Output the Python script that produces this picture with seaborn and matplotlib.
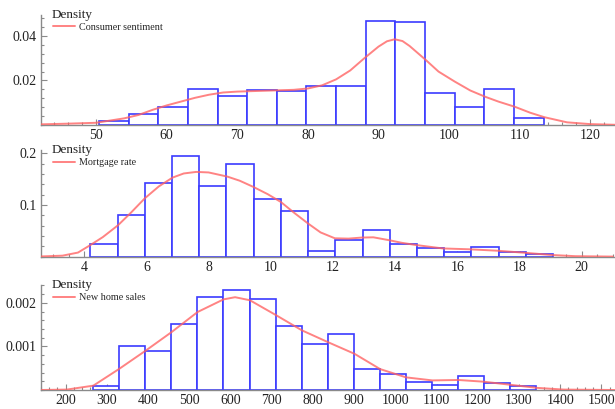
import numpy as np
import pandas as pd
import seaborn as sns
import matplotlib.pyplot as plt
from matplotlib.ticker import MultipleLocator, FixedLocator

# consumer sentiment: histogram (density) and smoothed density
cs_edges = [50.4, 54.6, 58.8, 63.0, 67.2, 71.4, 75.6, 79.8, 84.0, 88.2,
            92.4, 96.6, 100.8, 105.0, 109.2, 113.4]
cs_hist = [0.0019, 0.0048, 0.0080, 0.0162, 0.0132, 0.0157, 0.0153, 0.0174,
           0.0174, 0.0467, 0.0463, 0.0144, 0.0082, 0.0162, 0.0030]
cs_x = [42.2, 46, 50, 54, 56, 58, 60, 62, 64, 66, 68, 70, 74, 78, 80, 82, 84,
        86, 88, 90, 91.2, 92.3, 93.4, 94.4, 96.7, 98.5, 100.8, 103, 105.1,
        107, 109.3, 111.5, 113.5, 116.7, 120, 123.5]
cs_y = [0.0003, 0.0006, 0.0010, 0.0030, 0.0045, 0.0068, 0.0088, 0.0105,
        0.0122, 0.0136, 0.0146, 0.0150, 0.0154, 0.0158, 0.0164, 0.0178,
        0.0205, 0.0245, 0.0300, 0.0352, 0.0376, 0.0385, 0.0377, 0.0355,
        0.0292, 0.0240, 0.0195, 0.0155, 0.0127, 0.0105, 0.0082, 0.0055,
        0.0035, 0.0012, 0.0004, 0.0001]

# mortgage rate
mr_edges = [4.2, 5.075, 5.95, 6.825, 7.7, 8.575, 9.45, 10.325, 11.2, 12.075,
            12.95, 13.825, 14.7, 15.575, 16.45, 17.325, 18.2, 19.075]
mr_hist = [0.024, 0.0807, 0.143, 0.195, 0.137, 0.179, 0.112, 0.088, 0.0116,
           0.032, 0.0516, 0.0245, 0.017, 0.0097, 0.0188, 0.0097, 0.005]
mr_x = [2.6, 3.3, 3.8, 4.2, 4.6, 5.09, 5.5, 5.95, 6.4, 6.84, 7.2, 7.6, 8.0,
        8.6, 9.0, 9.44, 9.9, 10.32, 10.75, 11.19, 11.6, 12.06, 12.5, 12.92,
        13.3, 13.8, 14.2, 14.67, 15.53, 16.4, 17.28, 18.15, 19.03, 19.8, 21.0]
mr_y = [0.0005, 0.002, 0.008, 0.0226, 0.038, 0.061, 0.085, 0.113, 0.136,
        0.153, 0.161, 0.164, 0.163, 0.155, 0.147, 0.135, 0.121, 0.106, 0.085,
        0.0646, 0.047, 0.0356, 0.035, 0.037, 0.0375, 0.032, 0.027, 0.0226,
        0.016, 0.0143, 0.0116, 0.0077, 0.0033, 0.001, 0.0002]

# new home sales
nh_edges = [266.8, 330.0, 393.2, 456.4, 519.6, 582.8, 646.0, 709.2, 772.4,
            835.6, 898.8, 962.0, 1025.2, 1088.4, 1151.6, 1214.8, 1278.0, 1341.2]
nh_hist = [0.0001, 0.0010, 0.0009, 0.00152, 0.00214, 0.00229, 0.00208,
           0.00146, 0.00105, 0.00129, 0.00048, 0.00036, 0.00018, 0.00012,
           0.00032, 0.00017, 0.0001]
nh_x = [140, 203, 267, 329, 395, 457, 520, 583, 611, 647, 710, 773, 836, 901,
        963, 1026, 1090, 1153, 1215, 1279, 1342, 1408, 1533]
nh_y = [0.0, 0.00001, 0.0001, 0.00048, 0.00091, 0.00133, 0.00179, 0.00208,
        0.00213, 0.00206, 0.00172, 0.00137, 0.0011, 0.00083, 0.00048,
        0.00029, 0.00022, 0.00023, 0.00019, 0.00012, 0.00005, 0.00001, 0.0]

labels = ["Consumer sentiment", "Mortgage rate", "New home sales"]

W, H = 615, 409
BLUE = "#3b3bff"
RED = "#ff6464"
GREY = "#8a8a8a"

sns.set_style("white")
plt.rcParams["font.family"] = ["Liberation Serif", "DejaVu Serif"]

fig = plt.figure(figsize=(W / 100, H / 100), dpi=100)

# pixel boxes (top, baseline), x range, y max and ticks for each panel
panels = [
    dict(top=15, base=125, xlim=(42.2, 123.5), ymax=0.0494,
         edges=cs_edges, hist=cs_hist, cx=cs_x, cy=cs_y,
         xmaj=10, xmin=2, yticks=[0.02, 0.04], ymin_step=0.004, fmt="{:.2f}"),
    dict(top=150, base=256.7, xlim=(2.61, 21.07), ymax=0.2064,
         edges=mr_edges, hist=mr_hist, cx=mr_x, cy=mr_y,
         xmaj=2, xmin=0.5, yticks=[0.1, 0.2], ymin_step=0.02, fmt="{:.1f}"),
    dict(top=285, base=390, xlim=(140, 1533), ymax=0.00241,
         edges=nh_edges, hist=nh_hist, cx=nh_x, cy=nh_y,
         xmaj=100, xmin=20, yticks=[0.001, 0.002], ymin_step=0.0002, fmt="{:.3f}"),
]

for p, lab in zip(panels, labels):
    left = 41
    ax = fig.add_axes([left / W, 1 - p["base"] / H, (W - left) / W,
                       (p["base"] - p["top"]) / H])
    edges = list(p["edges"])
    centers = [(a + b) / 2 for a, b in zip(edges[:-1], edges[1:])]
    df = pd.DataFrame({"value": centers, "density": p["hist"]})
    sns.histplot(data=df, x="value", weights="density", bins=edges, stat="count",
                 color="white", edgecolor=BLUE, linewidth=1.2, alpha=1,
                 ax=ax, zorder=2)
    for patch in ax.patches:
        patch.set_edgecolor(BLUE)
    sns.lineplot(x=p["cx"], y=p["cy"], color=RED, alpha=0.8, linewidth=1.4,
                 ax=ax, zorder=3, label=lab)

    ax.set_xlim(*p["xlim"])
    ax.set_ylim(0, p["ymax"])
    ax.set_xlabel("")
    ax.set_ylabel("")
    ax.set_facecolor("none")
    for s in ["top", "right"]:
        ax.spines[s].set_visible(False)
    for s in ["left", "bottom"]:
        ax.spines[s].set_color(GREY)
        ax.spines[s].set_linewidth(1.0)

    ax.xaxis.set_major_locator(MultipleLocator(p["xmaj"]))
    ax.xaxis.set_minor_locator(MultipleLocator(p["xmin"]))
    ax.yaxis.set_major_locator(FixedLocator(p["yticks"]))
    ax.set_yticklabels([p["fmt"].format(v) for v in p["yticks"]])
    ax.yaxis.set_minor_locator(MultipleLocator(p["ymin_step"]))
    ax.tick_params(which="both", direction="in", color=GREY, width=0.8,
                   labelsize=10, labelcolor="#222222", pad=3)
    ax.tick_params(which="major", length=4)
    ax.tick_params(which="minor", length=2)
    ax.tick_params(axis="both", which="both", bottom=True, left=True)

    fig.text(52 / W, 1 - (p["top"] + 3) / H, "Density", fontsize=9.5,
             color="#222222", va="baseline", ha="left")
    ax.legend(loc="center left", bbox_to_anchor=(53 / W, 1 - (p["top"] + 12.5) / H),
              bbox_transform=fig.transFigure, frameon=False, fontsize=7.3,
              handlelength=2.2, handletextpad=0.4, borderpad=0, borderaxespad=0)

fig.savefig("out.png", dpi=100)
